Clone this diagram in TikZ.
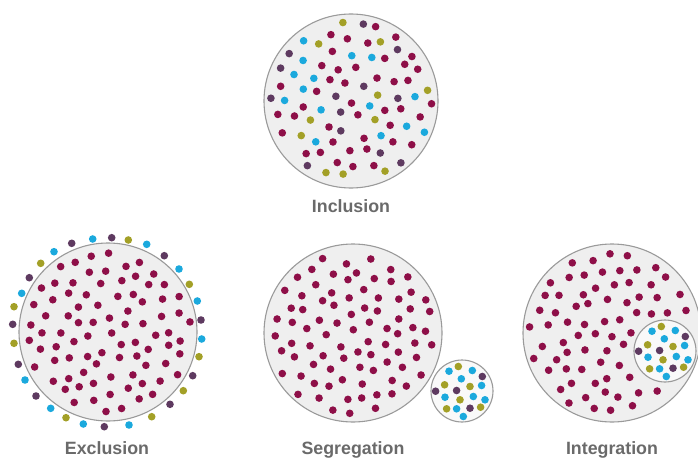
\documentclass[tikz,border=0pt]{standalone}
\usepackage{fontspec}
\setmainfont{Liberation Sans}
\definecolor{mar}{HTML}{8E0F48}
\definecolor{pur}{HTML}{5E3A60}
\definecolor{cya}{HTML}{1BA9DD}
\definecolor{oli}{HTML}{A3A027}
\definecolor{discfill}{HTML}{EFEFEF}
\definecolor{smallfill}{HTML}{F9F9F9}
\definecolor{discline}{HTML}{9A9A9A}
\definecolor{labelgray}{HTML}{6A6A6A}
\colorlet{inc0}{mar}\colorlet{inc1}{mar}\colorlet{inc2}{mar}\colorlet{inc3}{mar}
\colorlet{inc4}{pur}\colorlet{inc5}{cya}\colorlet{inc6}{oli}
\colorlet{mr0}{mar}\colorlet{mr1}{mar}\colorlet{mr2}{mar}\colorlet{mr3}{mar}
\colorlet{mr4}{mar}\colorlet{mr5}{mar}\colorlet{mr6}{mar}
\def\fieldrot{0}
% cx cy R d palette ex ey er seed
\newcommand\dotfield[9]{%
 \pgfmathsetseed{#9}%
 \pgfmathtruncatemacro\nmax{ceil(#3/#4)+2}%
 \pgfmathtruncatemacro\nmin{-\nmax}%
 \foreach \i in {\nmin,...,\nmax}{%
  \foreach \j in {\nmin,...,\nmax}{%
   \pgfmathsetmacro\ux{\i*#4 + mod(\j+40,2)*#4/2 + (rnd-0.5)*#4*0.42}%
   \pgfmathsetmacro\uy{\j*#4*0.866 + (rnd-0.5)*#4*0.42}%
   \pgfmathsetmacro\rx{\ux*cos(\fieldrot) - \uy*sin(\fieldrot)}%
   \pgfmathsetmacro\ry{\ux*sin(\fieldrot) + \uy*cos(\fieldrot)}%
   \pgfmathtruncatemacro\ok{((((\rx/10)^2+(\ry/10)^2) < ((#3/10)^2)) && ((((\rx+#1-#6)/10)^2+((\ry+#2-#7)/10)^2) > ((#8/10)^2))) ? 1 : 0}%
   \pgfmathtruncatemacro\dcol{min(6,int(rnd*7))}%
   \ifnum\ok=1 \fill[#5\dcol] (#1+\rx,#2+\ry) circle[radius=3.8];\fi
  }%
 }%
}
\newcommand\minority[2]{%
 \foreach \dx/\dy/\cl in {-3.7/-24.5/oli, -13/-19.8/cya, 10.3/-20.5/cya, 20.3/-14.5/pur,
   -0.7/-12.2/cya, -17.4/-6.2/oli, 8/-4.5/oli, 19.6/-5.5/cya, -26.4/0.2/pur,
   -5.4/-0.5/pur, -17/6.2/cya, -2/8.8/oli, 11.3/5.5/cya, 23/8.8/cya,
   -15.4/17.8/oli, -5.4/17.8/cya, 8/17.2/pur, 18.6/16.2/oli, 1.3/25.5/cya}
  {\fill[\cl] (#1+\dx,#2+\dy) circle[radius=3.8];}%
}
\tikzset{
  disc/.style={fill=discfill, draw=discline, line width=1.1pt},
  smalldisc/.style={fill=smallfill, draw=discline, line width=1.1pt},
  lbl/.style={text=labelgray, font=\fontsize{17.8}{20}\selectfont\bfseries, anchor=base, inner sep=0pt}
}
\begin{document}
\begin{tikzpicture}[x=1pt,y=-1pt]
\useasboundingbox (0,0) rectangle (698,460);
\fill[white] (0,0) rectangle (698,460);
% Inclusion
\draw[disc] (351,101) circle[radius=87];
\def\fieldrot{13}
\dotfield{351}{101}{81}{17.5}{inc}{0}{0}{0}{11}
\node[lbl] (inclusion) at (351,212.7) {Inclusion};
% Exclusion
\draw[disc] (108,332) circle[radius=89];
\def\fieldrot{-17}
\dotfield{108}{332}{83}{17.5}{mr}{0}{0}{0}{23}
\foreach \ex/\ey/\cl in {71.7/243.3/pur, 92.7/239/cya, 111.7/237.7/pur, 128.3/240/oli,
  146.7/244.3/cya, 164.3/255.7/pur, 179/269/cya, 189.3/284.3/oli, 197.3/301/cya,
  201/320/pur, 201.7/339/cya, 199/356.7/oli, 192.7/375.7/pur, 183.3/390.7/oli,
  170/404.3/pur, 151.7/416.7/oli, 129/425/cya, 104.3/426.7/pur, 83.3/424/cya,
  66/417.7/oli, 50.7/408.3/cya, 36/396/pur, 25/380/cya, 18.3/364.3/pur,
  14/343.3/oli, 12.7/324.3/pur, 14/306.7/oli, 21.7/293.3/cya, 29.3/277.7/pur,
  40.7/263.3/oli, 54/251.7/cya}
  {\fill[\cl] (\ex,\ey) circle[radius=3.8];}
\node[lbl] (exclusion) at (107,454) {Exclusion};
% Segregation
\draw[disc] (353,333) circle[radius=89];
\def\fieldrot{22}
\dotfield{353}{333}{83}{17.5}{mr}{0}{0}{0}{37}
\draw[smalldisc] (462,391) circle[radius=31];
\minority{462}{391}
\node[lbl] (segregation) at (353,454) {Segregation};
% Integration
\draw[disc] (612,333) circle[radius=89];
\def\fieldrot{-8}
\dotfield{612}{333}{83}{17.5}{mr}{665}{351}{38}{51}
\draw[smalldisc] (665,351) circle[radius=31];
\minority{665}{351}
\node[lbl] (integration) at (612,454) {Integration};
\end{tikzpicture}
\end{document}
